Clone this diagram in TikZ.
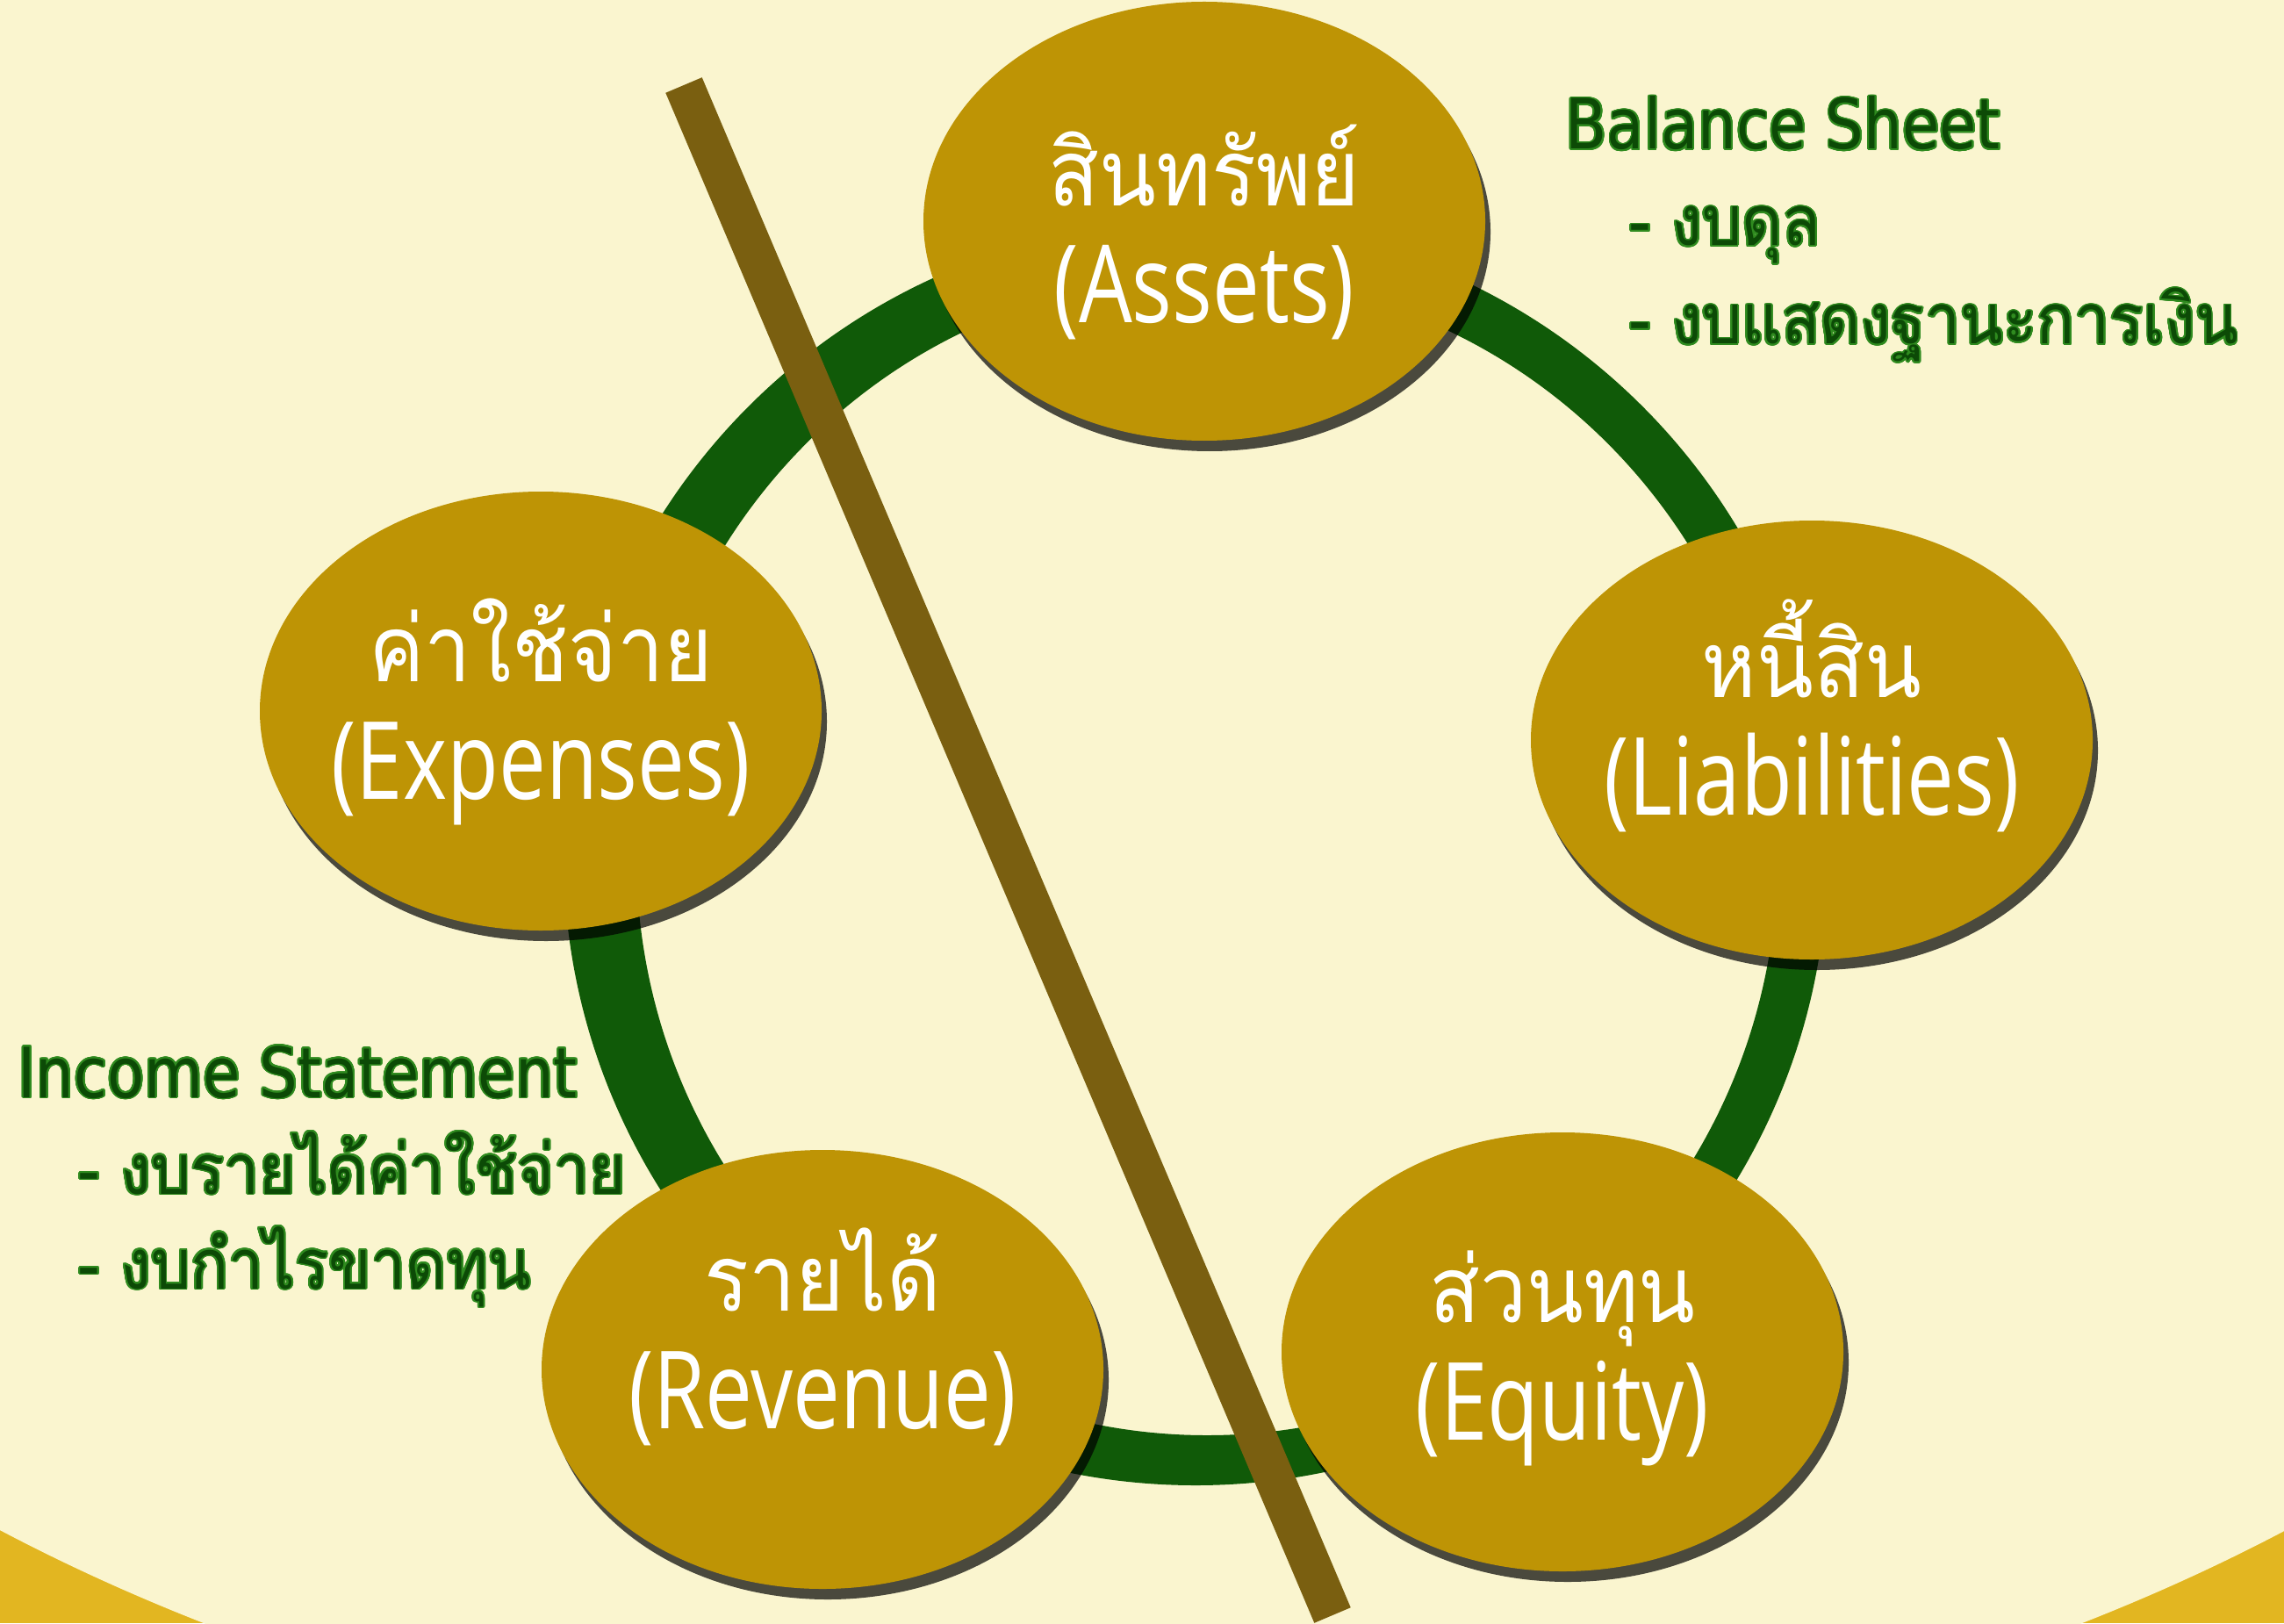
\documentclass[tikz,border=0pt]{standalone}
\usepackage{fontspec}
\usepackage{contour}
\usetikzlibrary{positioning, shapes.geometric, shadows}
\newfontfamily\thaifont[Script=Thai, FakeStretch=0.9]{Loma}
\newfontfamily\latinfont[FakeStretch=0.78]{Open Sans}
\newfontfamily\labelfont[FakeStretch=0.87]{DejaVu Sans}
\definecolor{cream}{HTML}{FAF5CF}
\definecolor{bandyellow}{HTML}{E2B621}
\definecolor{nodegold}{HTML}{BE9405}
\definecolor{ringgreen}{HTML}{105A08}
\definecolor{barbrown}{HTML}{7A5F10}
\definecolor{labeldark}{HTML}{0C4A06}
\definecolor{labelglow}{HTML}{2F8B1F}
\contourlength{0.55pt}
\contournumber{24}
% optional argument: how far the two lines are lifted
\newcommand{\accttext}[3][0pt]{%
  \makebox[0pt]{\rule{0pt}{\dimexpr30pt-(#1)\relax}{\thaifont\fontsize{30}{38}\selectfont\smash{#2}}}\\
  \makebox[0pt]{\smash{\latinfont #3}\rule[\dimexpr-10.8pt-(#1)\relax]{0pt}{\dimexpr10.8pt+(#1)\relax}}}
\newcommand{\glow}[1]{\contour{labelglow}{#1}}

\begin{document}
\begin{tikzpicture}[
    acct/.style={
        ellipse,
        fill=nodegold,
        text=white,
        inner sep=0pt,
        minimum width=6.4cm,
        minimum height=5.0cm,
        align=center,
        font=\fontsize{35}{38}\selectfont,
        drop shadow={shadow xshift=0.06cm, shadow yshift=-0.12cm, fill=black, opacity=0.7}
    },
    stmt/.style={text=labeldark, inner sep=0pt, anchor=base west, font=\fontsize{22.5}{31}\selectfont}
]
\useasboundingbox (0,0) rectangle (26.02,18.49);

% ======================
% Background
% ======================
\fill[bandyellow] (0,0) rectangle (26.02,18.49);
\begin{scope}
  \clip (0,0) rectangle (26.02,18.49);
  \fill[cream] (13.02,10.85) ellipse[x radius=20.28, y radius=12.77];
\end{scope}

% ======================
% Cycle ring and divider
% ======================
\coordinate (ring_out) at (13.62,8.77);
\coordinate (ring_in) at (13.75,8.74);
\fill[ringgreen, even odd rule] (ring_out) circle[radius=7.2]
    (ring_in) ellipse[x radius=6.5, y radius=6.6];

\coordinate (bar_top) at (7.79,17.52);
\coordinate (bar_bot) at (15.18,0.09);
\draw[barbrown, line width=0.45cm] (bar_top) -- (bar_bot);

% ======================
% Accounts
% ======================
\node[acct] (assets) at (13.72,15.97) {\accttext[-4.3pt]{สินทรัพย์}{(Assets)}};
\node[acct] (liabilities) at (20.64,10.06) {\accttext[4.3pt]{หนี้สิน}{(Liabilities)}};
\node[acct] (equity) at (17.80,3.09) {\accttext{ส่วนทุน}{(Equity)}};
\node[acct] (revenue) at (9.37,2.89) {\accttext[9.4pt]{รายได้}{(Revenue)}};
\node[acct] (expenses) at (6.16,10.39) {\accttext{ค่าใช้จ่าย}{(Expenses)}};

% ======================
% Statement labels
% ======================
\node[stmt] (bs_title) at (17.83,16.79) {\glow{\labelfont Balance Sheet}};
\node[stmt] (bs_one) at (18.56,15.69) {\glow{\thaifont - งบดุล}};
\node[stmt] (bs_two) at (18.56,14.57) {\glow{\thaifont - งบแสดงฐานะการเงิน}};

\node[stmt] (is_title) at (0.20,5.99) {\glow{\labelfont Income Statement}};
\node[stmt] (is_one) at (0.89,4.89) {\glow{\thaifont - งบรายได้ค่าใช้จ่าย}};
\node[stmt] (is_two) at (0.89,3.81) {\glow{\thaifont - งบกำไรขาดทุน}};

\end{tikzpicture}
\end{document}
